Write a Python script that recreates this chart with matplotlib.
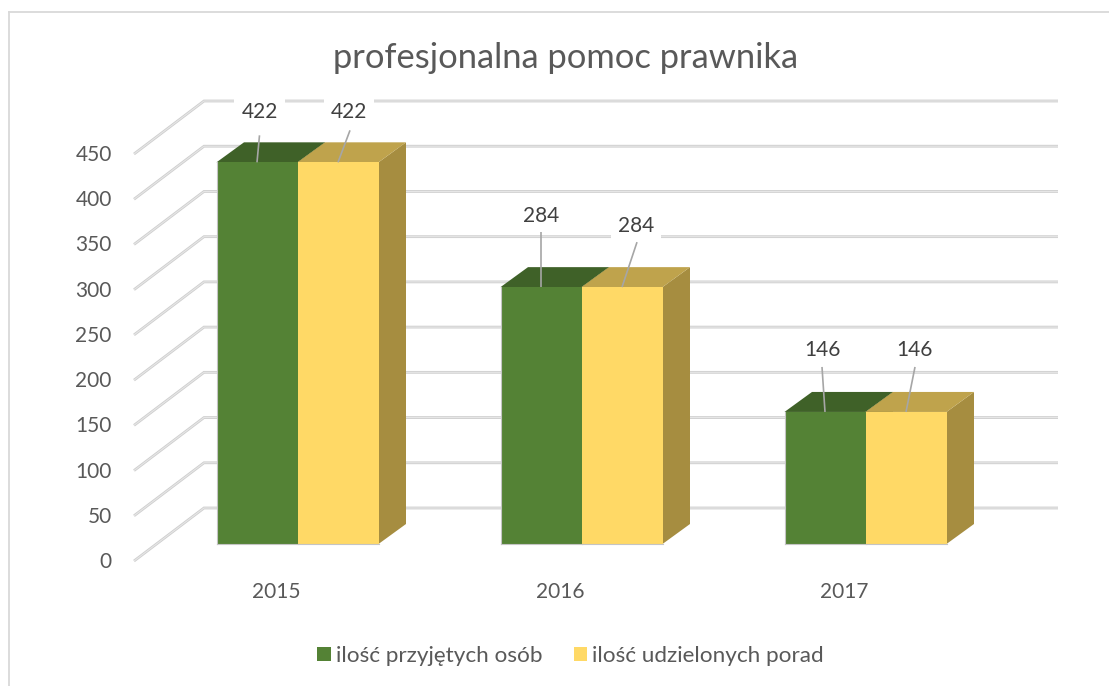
import matplotlib
matplotlib.use("Agg")
import matplotlib.pyplot as plt
from matplotlib.patches import Polygon, Patch
from matplotlib.lines import Line2D
from matplotlib.transforms import ScaledTranslation

years = ["2015", "2016", "2017"]
osoby = [422, 284, 146]
porady = [422, 284, 146]
series_names = ["ilość przyjętych osób", "ilość udzielonych porad"]
y_ticks = [0, 50, 100, 150, 200, 250, 300, 350, 400, 450]
title = "profesjonalna pomoc prawnika"

W, H = 1109, 686
plt.rcParams["font.family"] = ["Lato", "DejaVu Sans"]
fig = plt.figure(figsize=(W / 100, H / 100), dpi=100, facecolor="white")

# plot plane in pixels: x 134..986, value 0 at y=561, value 450 at y=154
L, R, T, B = 134, 986, 154, 561
ax = fig.add_axes([L / W, 1 - B / H, (R - L) / W, (B - T) / H])
ax.set_xlim(-0.5, 2.5)
ax.set_ylim(0, 450)
ax.patch.set_alpha(0)
for s in ax.spines.values():
    s.set_visible(False)

ux = 3 / (R - L)      # data units per pixel
uy = 450 / (B - T)
def px(dx, dy):
    return dx * ux, dy * uy

# frame of the chart area
for xs, ys in [([9, 9], [686, 12]), ([9, 1109], [12, 12])]:
    fig.add_artist(Line2D([x / W for x in xs], [1 - y / H for y in ys],
                          color="#d9d9d9", lw=1.3))

# gridlines: front-left diagonal and back wall line
wx, wy = px(70, 53)
wr, _ = px(72, 0)
for v in y_ticks:
    xs = [-0.5, -0.5 + wx, 2.5 + wr]
    ys = [v, v + wy, v + wy]
    ax.plot(xs, ys, color="#cecece", lw=2.0, clip_on=False, zorder=1,
            solid_capstyle="butt", solid_joinstyle="miter")
    ax.plot(xs, ys, color="#e6e6e6", lw=0.8, clip_on=False, zorder=1.1,
            solid_capstyle="butt", solid_joinstyle="miter")

# bars
bw = 81 * ux
ox, oy = px(21.5, 17)
dx, dy = px(27.5, 20)
colors = [("#548235", "#3f6128", "#3a5a26"), ("#ffd966", "#bfa34c", "#a68d40")]
label_off = [[(2.5, 50), (11, 50)], [(0, 71), (14, 61)], [(-3, 62), (8, 62)]]
leader = [[(2.5, 27), (12, 32)], [(0, 55), (15, 45)], [(-3, 45), (9, 45)]]

for s, (vals, (cf, ct, cs)) in enumerate(zip([osoby, porady], colors)):
    for i, v in enumerate(vals):
        x0 = i + ox + (s - 1) * bw
        x1 = x0 + bw
        y0 = oy
        y1 = v + oy
        ax.add_patch(Polygon([(x1, y0), (x1 + dx, y0 + dy), (x1 + dx, y1 + dy), (x1, y1)],
                             fc=cs, ec="none", clip_on=False, zorder=3))
        ax.add_patch(Polygon([(x0, y1), (x0 + dx, y1 + dy), (x1 + dx, y1 + dy), (x1, y1)],
                             fc=ct, ec="none", clip_on=False, zorder=3))
        ax.bar(x0 + bw / 2, v, width=bw, bottom=y0, color=cf, edgecolor="none",
               clip_on=False, zorder=4)
        ax.plot([x0, x1], [y0, y0], color="#c4c4c4", lw=0.8,
                clip_on=False, zorder=4.1)
        if s == 0:
            ax.plot([x0, x0], [y0, y1], color="#c4c4c4", lw=0.8,
                    clip_on=False, zorder=4.1)

        cx = x0 + bw / 2
        lx, ly = px(*leader[i][s])
        tx, ty = px(*label_off[i][s])
        ax.text(cx + tx, y1 + ty, str(v), ha="center", va="center", fontsize=15,
                color="#404040", zorder=5, clip_on=False,
                bbox=dict(fc="white", ec="none", pad=0,
                          boxstyle="square,pad=0.35"))
        ax.plot([cx, cx + lx], [y1, y1 + ly], color="#a6a6a6", lw=1.2,
                clip_on=False, zorder=6, solid_capstyle="butt")

# axes labels
ax.set_yticks(y_ticks)
ax.set_xticks(range(len(years)), years)
ax.tick_params(axis="both", length=0, labelsize=15, labelcolor="#595959")
ax.tick_params(axis="y", pad=16)
ax.tick_params(axis="x", pad=15)
shift = ScaledTranslation(0, 1 / 100, fig.dpi_scale_trans)
for lab in ax.get_yticklabels():
    lab.set_transform(lab.get_transform() + shift)

fig.text(565.5 / W, 1 - 58 / H, title, ha="center", va="center",
         fontsize=24.8, color="#595959")

handles = [Patch(fc=colors[0][0], ec="none"), Patch(fc=colors[1][0], ec="none")]
fig.legend(handles, series_names, loc="center", bbox_to_anchor=(570.5 / W, 1 - 656 / H),
           ncols=2, frameon=False, fontsize=16.2, labelcolor="#595959",
           handlelength=0.6, handleheight=0.6, handletextpad=0.22, columnspacing=1.4)

fig.savefig("out.png", dpi=100)
